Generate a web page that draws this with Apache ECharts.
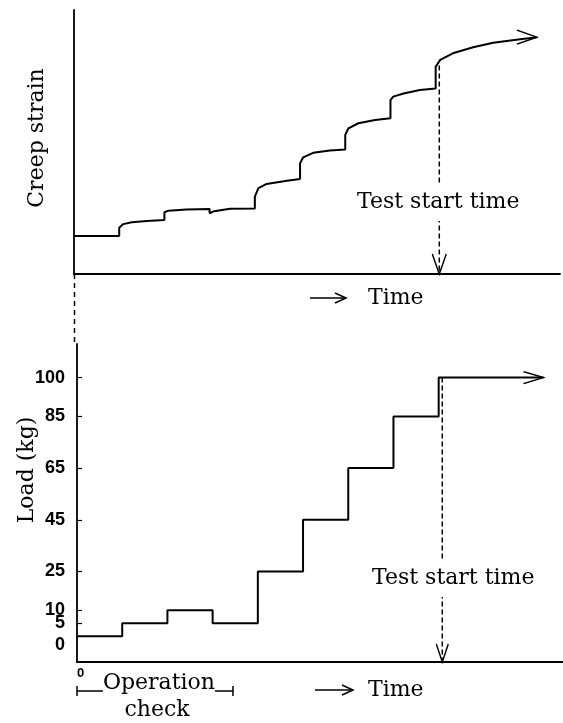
<!DOCTYPE html>
<html>
<head>
<meta charset="utf-8">
<script src="https://cdn.jsdelivr.net/npm/echarts@6/dist/echarts.min.js"></script>
<style>
html, body { margin: 0; padding: 0; background: #fff; }
#chart { width: 563px; height: 723px; }
</style>
</head>
<body>
<div id="chart"></div>
<script>
// creep strain (arbitrary units), time in load-step units
var creepTime = [0, 1,
    1, 1.09, 1.28, 1.61, 2,
    2, 2.09, 2.49, 3,
    3, 3.1, 3.45, 4,
    4, 4.08, 4.26, 4.71, 5,
    5, 5.07, 5.29, 5.66, 6,
    6, 6.07, 6.29, 6.66, 7,
    7, 7.06, 7.29, 7.65, 8,
    8, 8.1, 8.38, 8.83, 9.27, 9.87, 10.24];
var creepStrain = [14.4, 14.4,
    17.5, 18.9, 19.6, 20.1, 20.5,
    23.4, 24.0, 24.4, 24.6,
    23.0, 23.8, 24.7, 24.8,
    29.3, 32.5, 34.1, 35.3, 36.0,
    41.9, 44.2, 45.9, 46.8, 47.2,
    52.7, 55.2, 57.1, 58.3, 59.0,
    65.9, 67.2, 68.4, 69.7, 70.3,
    78.5, 81.1, 83.6, 85.9, 87.6, 88.9, 89.7];

// load steps (kg)
var loadTime = [0, 1, 2, 3, 4, 5, 6, 7, 8, 10.32];
var loadValue = [0, 5, 10, 5, 25, 45, 65, 85, 100, 100];
var loadTicks = [5, 10, 25, 45, 65, 85, 100];
var loadLabels = [0, 5, 10, 25, 45, 65, 85, 100];

var testStart = 8.08;
var testStartStrain = 79;
var operationCheck = [0, 3.45];

var serif = 'DejaVu Serif';
var arrowRight = 'path://M0,0 L10,5 L0,10';
var arrowDown = 'path://M0,0 L5,10 L10,0';

function pairs(xs, ys) {
    return xs.map(function (x, i) { return [x, ys[i]]; });
}
// last point of a line gets an open arrow head
function withTip(points, path, size, offset) {
    var last = points.pop();
    points.push({
        value: last, symbol: path, symbolSize: size, symbolOffset: offset,
        itemStyle: { color: 'none', borderColor: '#000', borderWidth: 1.6 }
    });
    return points;
}

var myChart = echarts.init(document.getElementById('chart'));

var blackLine = { show: true, onZero: false, lineStyle: { color: '#000', width: 1.8 } };

var option = {
    animation: false,
    backgroundColor: '#fff',
    grid: [
        { left: 74, top: 10, width: 486, height: 264 },
        { left: 77, top: 344, width: 486, height: 318 }
    ],
    xAxis: [
        { gridIndex: 0, type: 'value', min: 0, max: 10.75, axisLine: blackLine,
          axisTick: { show: false }, axisLabel: { show: false }, splitLine: { show: false } },
        { gridIndex: 1, type: 'value', min: 0, max: 10.75, axisLine: blackLine,
          axisTick: { show: false }, splitLine: { show: false },
          axisLabel: { customValues: [0], align: 'left', margin: 5, color: '#000',
                       fontFamily: 'Liberation Sans', fontWeight: 'bold', fontSize: 13 } }
    ],
    yAxis: [
        { gridIndex: 0, type: 'value', min: 0, max: 100, axisLine: blackLine,
          axisTick: { show: false }, axisLabel: { show: false }, splitLine: { show: false } },
        { gridIndex: 1, type: 'value', min: -10, max: 113, axisLine: blackLine,
          splitLine: { show: false },
          axisTick: { customValues: loadTicks, inside: true, length: 5,
                      lineStyle: { color: '#000', width: 1.2 } },
          axisLabel: {
              customValues: loadLabels, margin: 12, color: '#000',
              fontFamily: 'Liberation Sans', fontWeight: 'bold', fontSize: 18,
              formatter: function (v) { return v === 0 ? '{low|0}' : String(v); },
              rich: { low: { padding: [18, 0, 0, 0], fontFamily: 'Liberation Sans',
                             fontWeight: 'bold', fontSize: 18, color: '#000' } }
          } }
    ],
    series: [
        {
            name: 'Creep strain', type: 'line', xAxisIndex: 0, yAxisIndex: 0,
            symbol: 'circle', symbolSize: 0, silent: true,
            lineStyle: { color: '#000', width: 2 },
            data: withTip(pairs(creepTime, creepStrain), arrowRight, [20, 14], ['-50%', 0])
        },
        {
            name: 'Test start (strain)', type: 'line', xAxisIndex: 0, yAxisIndex: 0,
            symbol: 'circle', symbolSize: 0, silent: true,
            lineStyle: { color: '#000', width: 1.5, type: [5, 3] },
            data: withTip([[testStart, testStartStrain], [testStart, 0]], arrowDown, [14, 20], [0, '-50%'])
        },
        {
            name: 'Load', type: 'line', step: 'end', xAxisIndex: 1, yAxisIndex: 1,
            symbol: 'circle', symbolSize: 0, silent: true,
            lineStyle: { color: '#000', width: 2 },
            data: withTip(pairs(loadTime, loadValue), arrowRight, [20, 12], ['-50%', 0])
        },
        {
            name: 'Test start (load)', type: 'line', xAxisIndex: 1, yAxisIndex: 1,
            symbol: 'circle', symbolSize: 0, silent: true,
            lineStyle: { color: '#000', width: 1.5, type: [5, 3] },
            data: withTip([[testStart, 100], [testStart, -10]], arrowDown, [12, 18], [0, '-50%'])
        }
    ]
};

myChart.setOption(option);

// annotations
function txt(text, x, y, extra) {
    var style = { text: text, x: 0, y: 0, font: '22px "' + serif + '"', fill: '#000',
                  align: 'left', verticalAlign: 'middle' };
    for (var k in extra) style[k] = extra[k];
    return { type: 'text', x: x, y: y, z: 100, style: style };
}
function seg(x1, y1, x2, y2, dash) {
    return { type: 'line', z: 90, shape: { x1: x1, y1: y1, x2: x2, y2: y2 },
             style: { stroke: '#000', lineWidth: 1.5, lineDash: dash || null } };
}
function timeArrow(x1, x2, y) {
    return [seg(x1, y, x2, y),
        { type: 'polyline', z: 90, shape: { points: [[x2 - 11, y - 5], [x2, y], [x2 - 11, y + 5]] },
          style: { stroke: '#000', lineWidth: 1.5, fill: null } }];
}

var topOrigin = myChart.convertToPixel({ gridIndex: 0 }, [0, 0]);
var bottomTop = myChart.convertToPixel({ gridIndex: 1 }, [0, 113]);
var bx0 = myChart.convertToPixel({ gridIndex: 1 }, [operationCheck[0], 0])[0];
var bx1 = myChart.convertToPixel({ gridIndex: 1 }, [operationCheck[1], 0])[0];
var by = 691;

var graphics = [
    txt('Creep strain', 37, 138, { align: 'center' }),
    txt('Load (kg)', 27, 470, { align: 'center' }),
    txt('Test start time', 357, 202, { backgroundColor: '#fff', padding: [8, 0] }),
    txt('Test start time', 372, 578, { backgroundColor: '#fff', padding: [8, 0] }),
    txt('Time', 368, 298),
    txt('Time', 368, 690),
    seg(topOrigin[0] + 0.5, topOrigin[1], topOrigin[0] + 0.5, bottomTop[1], [5, 4]),
    seg(bx0, by, bx1, by),
    seg(bx0, by - 5, bx0, by + 5),
    seg(bx1, by - 5, bx1, by + 5),
    txt('Operation', (bx0 + bx1) / 2 + 4, 683, { align: 'center', backgroundColor: '#fff' }),
    txt('check', (bx0 + bx1) / 2 + 2, 710, { align: 'center' })
];
graphics[0].rotation = Math.PI / 2;
graphics[1].rotation = Math.PI / 2;
graphics = graphics.concat(timeArrow(310, 346, 298), timeArrow(315, 353, 690));

myChart.setOption({ graphic: graphics });
</script>
</body>
</html>
